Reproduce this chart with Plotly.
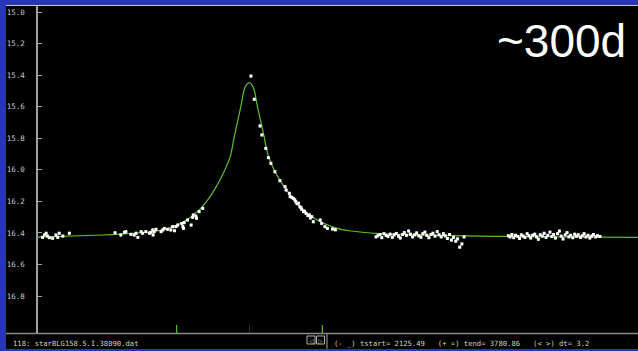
import plotly.graph_objects as go

# ---- data (HJD-2450000 days, I magnitude) ----
curve_t = [2125, 2304, 2349, 2432, 2465, 2520, 2567, 2603, 2636, 2656, 2667, 2675, 2686, 2694, 2700,
           2708, 2716, 2722, 2730, 2741, 2749, 2760, 2780, 2813, 2849, 2896, 2951, 2984, 3067, 3260,
           3500, 3781]
curve_m = [16.426, 16.413, 16.408, 16.394, 16.382, 16.338, 16.262, 16.160, 16.025, 15.915, 15.790,
           15.705, 15.589, 15.494, 15.463, 15.448, 15.463, 15.494, 15.589, 15.703, 15.786, 15.906,
           16.014, 16.134, 16.236, 16.318, 16.371, 16.386, 16.404, 16.417, 16.424, 16.428]

rise_t = [2138, 2143, 2148, 2152, 2157, 2166, 2175, 2180, 2184, 2194, 2212, 2338, 2354, 2364, 2368,
          2382, 2391, 2396, 2401, 2410, 2414, 2423, 2433, 2437, 2442, 2443, 2446, 2451, 2465, 2470,
          2474, 2483, 2492, 2497, 2502, 2506, 2511, 2522, 2525, 2527, 2529, 2538, 2548, 2552, 2554,
          2561, 2563, 2570, 2580]
rise_m = [16.428, 16.413, 16.402, 16.420, 16.430, 16.434, 16.413, 16.428, 16.402, 16.420, 16.402,
          16.399, 16.413, 16.396, 16.392, 16.409, 16.413, 16.402, 16.428, 16.392, 16.402, 16.392,
          16.402, 16.396, 16.381, 16.413, 16.392, 16.377, 16.392, 16.381, 16.371, 16.377, 16.381,
          16.360, 16.386, 16.360, 16.350, 16.340, 16.360, 16.371, 16.335, 16.318, 16.350, 16.301,
          16.286, 16.293, 16.307, 16.265, 16.244]

fall_t = [2713, 2722, 2738, 2743, 2754, 2761, 2768, 2779, 2793, 2807, 2810, 2819, 2821, 2826, 2830,
          2834, 2837, 2840, 2844, 2848, 2851, 2853, 2858, 2861, 2865, 2870, 2874, 2877, 2881, 2885,
          2904, 2908, 2917, 2924, 2938, 2946]
fall_m = [15.406, 15.553, 15.722, 15.779, 15.864, 15.923, 15.959, 16.012, 16.069, 16.107, 16.128,
          16.149, 16.170, 16.175, 16.181, 16.190, 16.202, 16.215, 16.212, 16.234, 16.240, 16.250,
          16.265, 16.262, 16.276, 16.290, 16.286, 16.305, 16.297, 16.329, 16.318, 16.339, 16.360,
          16.371, 16.375, 16.380]

base1_t = [3058, 3063, 3069, 3074, 3080, 3086, 3091, 3097, 3103, 3108, 3114, 3120, 3125, 3131, 3136,
           3142, 3148, 3153, 3159, 3165, 3170, 3176, 3182, 3187, 3193, 3198, 3204, 3210, 3215, 3221,
           3227, 3232, 3238, 3244, 3249, 3255, 3261, 3266, 3272, 3278, 3283, 3289, 3295, 3301]
base1_m = [16.425, 16.418, 16.410, 16.430, 16.405, 16.415, 16.422, 16.408, 16.428, 16.412, 16.403,
           16.420, 16.432, 16.410, 16.398, 16.415, 16.388, 16.408, 16.425, 16.412, 16.400, 16.418,
           16.427, 16.405, 16.395, 16.415, 16.430, 16.410, 16.402, 16.420, 16.392, 16.412, 16.425,
           16.405, 16.418, 16.435, 16.410, 16.445, 16.428, 16.452, 16.438, 16.490, 16.470, 16.425]

base2_t = [3423, 3428, 3433, 3438, 3443, 3449, 3454, 3459, 3464, 3469, 3475, 3480, 3485, 3490, 3496,
           3501, 3506, 3511, 3517, 3522, 3527, 3532, 3538, 3543, 3548, 3553, 3559, 3564, 3569, 3574,
           3580, 3585, 3590, 3595, 3601, 3606, 3611, 3616, 3622, 3627, 3632, 3637, 3643, 3648, 3653,
           3658, 3664, 3669, 3676]
base2_m = [16.418, 16.425, 16.410, 16.430, 16.415, 16.422, 16.435, 16.412, 16.420, 16.428, 16.405,
           16.418, 16.432, 16.415, 16.408, 16.425, 16.440, 16.412, 16.420, 16.402, 16.428, 16.415,
           16.395, 16.422, 16.410, 16.432, 16.405, 16.388, 16.420, 16.438, 16.412, 16.398, 16.425,
           16.415, 16.430, 16.408, 16.420, 16.412, 16.428, 16.418, 16.405, 16.425, 16.415, 16.432,
           16.420, 16.410, 16.425, 16.418, 16.422]

marker_days = [2508, 2910]
marker_days_dim = [2709]
y_ticks = [15.0, 15.2, 15.4, 15.6, 15.8, 16.0, 16.2, 16.4, 16.6, 16.8]
t_start, t_end = 2125.49, 3780.86
status_left = "118: starBLG158.5.I.38090.dat"
status_right = "(- _) tstart= 2125.49   (+ =) tend= 3780.86   (< >) dt= 3.2"
label_text = "~300d"

# ---- figure ----
W, H = 638, 351
L, R, T, B = 38, 0, 6, 18
pw, ph = W - L - R, H - T - B


def px(xp):
    return (xp - L) / pw


def py(yp):
    return (H - B - yp) / ph


fig = go.Figure()

fig.add_trace(go.Scatter(x=curve_t, y=curve_m, mode="lines",
                         line=dict(color="#5cbf2a", width=1.2, shape="spline", smoothing=0.8),
                         hoverinfo="skip"))

pt_t = rise_t + fall_t + base1_t + base2_t
pt_m = rise_m + fall_m + base1_m + base2_m
fig.add_trace(go.Scatter(x=pt_t, y=pt_m, mode="markers",
                         marker=dict(symbol="square", size=3, color="white", line=dict(width=0)),
                         error_y=dict(type="constant", value=0.009, color="white", thickness=1, width=0)))

BLUE = "#2637b3"
TXT = "#d0d0d0"
shapes = [
    dict(type="rect", xref="paper", yref="paper", x0=px(6), x1=px(W + 5), y0=py(349), y1=py(6),
         fillcolor="black", line=dict(width=0), layer="below"),
    dict(type="line", xref="paper", yref="paper", x0=px(6), x1=px(W + 5), y0=py(5.5), y1=py(5.5),
         line=dict(color="#c8c8d8", width=1)),
    dict(type="line", xref="paper", yref="paper", x0=px(6), x1=px(W + 5), y0=py(333.5), y1=py(333.5),
         line=dict(color="#8a8a8a", width=1.5)),
    dict(type="line", xref="paper", yref="paper", x0=px(327), x1=px(327), y0=py(333.5), y1=py(349),
         line=dict(color="#8a8a8a", width=1.2)),
    dict(type="rect", xref="paper", yref="paper", x0=px(307), x1=px(315), y0=py(344), y1=py(336),
         line=dict(color="#b0b0b0", width=1)),
    dict(type="rect", xref="paper", yref="paper", x0=px(316.5), x1=px(324.5), y0=py(344), y1=py(336),
         line=dict(color="#b0b0b0", width=1)),
]
for d in marker_days:
    shapes.append(dict(type="line", xref="x", yref="paper", x0=d, x1=d, y0=py(333), y1=py(325),
                       line=dict(color="#5cbf2a", width=1.2)))
for d in marker_days_dim:
    shapes.append(dict(type="line", xref="x", yref="paper", x0=d, x1=d, y0=py(333), y1=py(325),
                       line=dict(color="#1f3a12", width=1)))

annotations = [
    dict(text=label_text, xref="paper", yref="paper", x=px(628), y=py(41), xanchor="right",
         yanchor="middle", showarrow=False,
         font=dict(family="Liberation Sans, Arial", size=46, color="white")),
    dict(text=status_left, xref="paper", yref="paper", x=px(11), y=py(343), xanchor="left",
         yanchor="middle", showarrow=False,
         font=dict(family="DejaVu Sans Mono", size=7.2, color=TXT)),
    dict(text=status_right, xref="paper", yref="paper", x=px(332), y=py(343), xanchor="left",
         yanchor="middle", showarrow=False,
         font=dict(family="DejaVu Sans Mono", size=7.2, color=TXT)),
    dict(text="◁", xref="paper", yref="paper", x=px(311), y=py(340), xanchor="center",
         yanchor="middle", showarrow=False, font=dict(family="DejaVu Sans", size=6, color="#c0c0c0")),
    dict(text="▷", xref="paper", yref="paper", x=px(320.5), y=py(340), xanchor="center",
         yanchor="middle", showarrow=False, font=dict(family="DejaVu Sans", size=6, color="#c0c0c0")),
]

fig.update_layout(
    width=W, height=H,
    margin=dict(l=L, r=R, t=T, b=B, pad=0),
    paper_bgcolor=BLUE, plot_bgcolor="black",
    showlegend=False,
    shapes=shapes, annotations=annotations,
    xaxis=dict(range=[t_start, t_end], visible=False, showgrid=False, zeroline=False),
    yaxis=dict(range=[17.034, 14.962], tickvals=y_ticks, tickformat=".1f",
               ticks="inside", ticklen=4, tickcolor="#a0a0a0", tickwidth=1,
               showline=True, linecolor="#a0a0a0", linewidth=1.5,
               showgrid=False, zeroline=False, ticklabelstandoff=10,
               tickfont=dict(family="DejaVu Sans Mono", size=7.5, color="#c8c8c8")),
)

fig.write_html("out.html", config={"displayModeBar": False},
               post_script="document.body.style.margin='0px';document.body.style.overflow='hidden';")
